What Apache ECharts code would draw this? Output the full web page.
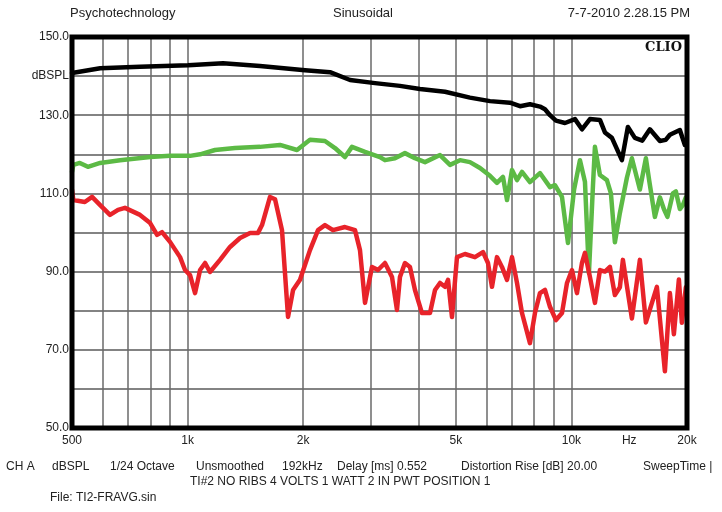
<!DOCTYPE html>
<html>
<head>
<meta charset="utf-8">
<script src="https://cdn.jsdelivr.net/npm/echarts@6/dist/echarts.min.js"></script>
<style>html,body{margin:0;padding:0;background:#fff}#c{width:722px;height:512px}</style>
</head>
<body>
<div id="c"></div>
<script>
// ---- data (frequency in Hz, level in dBSPL) ----
const blackFreq = [500,592,752,1003,1237,1544,2023,2350,2650,3078,3575,4031,4684,5440,6135,6918,7345,7797,8279,8532,8792,9114,9621,10214,10651,11173,11864,12225,12748,13535,14030,14630,15300,16009,16997,17600,18050,19163,19745];
const blackDb   = [140.8,142.0,142.4,142.8,143.3,142.6,141.5,141.0,139.0,138.2,137.5,136.7,136.0,134.5,133.6,133.2,132.3,132.8,132.2,131.5,130.0,128.6,128.0,129.0,126.4,129.0,128.8,125.6,124.2,118.5,127.0,124.2,123.5,126.4,123.4,123.7,125.0,126.2,122.4];

const greenFreq = [500,504,524,550,592,667,799,900,1015,1078,1179,1329,1544,1741,1928,2084,2280,2421,2571,2681,2899,3171,3268,3470,3684,3912,4154,4546,4827,5124,5440,5778,6135,6397,6632,6795,7001,7214,7434,7797,8279,8792,9059,9449,9795,10156,10524,10844,11106,11378,11513,11864,12371,12672,12978,13372,13946,14370,15077,15630,15959,16496,16997,17410,17787,18377,18710,19163,19510,19863];
const greenDb   = [115.5,117.3,117.8,116.8,117.8,118.5,119.3,119.6,119.6,120.0,121.1,121.6,121.9,122.4,121.1,123.7,123.4,121.6,119.3,121.9,120.6,119.3,118.5,119.0,120.3,119.0,118.0,119.8,117.3,118.5,118.0,116.5,114.5,112.7,114.2,108.3,116.0,113.4,115.5,112.9,115.2,111.6,112.1,109.1,97.3,110.9,118.5,113.0,89.6,112.0,121.9,114.7,113.4,110.0,97.5,105.0,114.0,119.0,111.0,119.0,113.0,104.0,109.0,106.0,104.0,110.0,110.5,106.0,107.0,109.0];

const redFreq = [500,504,540,564,592,628,659,687,752,799,833,858,900,956,985,1015,1046,1078,1111,1144,1215,1290,1370,1455,1526,1563,1640,1690,1762,1827,1883,1963,2084,2187,2280,2392,2571,2730,2813,2899,3023,3134,3268,3409,3512,3575,3684,3796,3912,4080,4281,4412,4546,4684,4770,4885,5033,5280,5606,5883,6062,6209,6397,6592,6795,7001,7214,7434,7797,8034,8279,8532,8792,9114,9449,9737,10032,10337,10651,10844,11173,11513,11864,12225,12596,12978,13372,13616,14370,15077,15630,16695,17517,18050,18487,19049,19394,19863];
const redDb   = [110.9,108.3,107.8,109.1,107.0,104.5,105.8,106.3,104.5,102.4,99.4,100.1,97.6,93.7,90.4,89.1,84.5,90.4,92.2,89.9,93.0,96.3,98.6,99.9,99.9,101.9,109.1,108.5,100.6,78.4,85.3,87.9,95.5,100.6,101.9,100.6,101.4,100.6,95.5,82.0,91.2,90.4,92.2,88.6,80.2,88.6,92.2,91.2,85.3,79.4,79.4,85.3,87.1,86.1,87.9,78.4,93.7,94.5,93.7,95.0,92.2,86.1,93.7,91.2,87.9,93.7,87.1,79.4,71.7,79.4,84.5,85.3,81.0,77.6,79.4,87.1,90.4,84.5,92.2,94.8,88.6,82.0,90.4,90.0,91.2,84.0,86.0,93.0,78.0,93.0,77.0,86.1,64.5,84.5,74.0,88.0,76.9,86.0];

const gridFreqs = [500,600,700,800,900,1000,2000,3000,4000,5000,6000,7000,8000,9000,10000,20000];
const xLabelFreqs = [500,1000,2000,5000,10000,14142,20000];
const xLabelText  = {500:'500',1000:'1k',2000:'2k',5000:'5k',10000:'10k',14142:'Hz',20000:'20k'};

function pairs(f, d){ return f.map((v,i)=>[v,d[i]]); }

const chart = echarts.init(document.getElementById('c'), null, {renderer:'canvas'});
const txt = '#222';
const font = 'Liberation Sans, Arial, sans-serif';
function lineSeries(name, f, d, color){
  return {name, type:'line', data:pairs(f,d), showSymbol:false, symbol:'none',
    lineStyle:{color, width:4.5, cap:'round', join:'round'}, z:3, animation:false};
}
chart.setOption({
  animation:false,
  backgroundColor:'#fff',
  grid:{left:72, right:35, top:37, bottom:84, show:true, borderColor:'#000', borderWidth:5, backgroundColor:'transparent', z:4},
  xAxis:{type:'log', logBase:10, min:500, max:20000,
    axisLine:{show:false},
    axisTick:{show:false, customValues:gridFreqs},
    splitLine:{show:true, lineStyle:{color:'#6a6a6a', width:1.5}},
    axisLabel:{customValues:xLabelFreqs, formatter:v=>xLabelText[Math.round(v)]||'', color:txt, fontSize:12, fontFamily:font, margin:7, showMinLabel:true, showMaxLabel:true}
  },
  yAxis:{type:'value', min:50, max:150, interval:10,
    axisLine:{show:false}, axisTick:{show:false},
    splitLine:{show:true, lineStyle:{color:'#5a5a5a', width:1.5}},
    axisLabel:{color:txt, fontSize:12, fontFamily:font, margin:3, showMinLabel:true, showMaxLabel:true,
      formatter:v=> v===140 ? 'dBSPL' : ((v-10)%20===0 ? v.toFixed(1) : '')}
  },
  series:[
    lineSeries('black', blackFreq, blackDb, '#000000'),
    lineSeries('green', greenFreq, greenDb, '#5cba45'),
    lineSeries('red', redFreq, redDb, '#e8232a')
  ],
  graphic:[
    {type:'text', left:70, top:7, style:{text:'Psychotechnology', fill:txt, font:'13px '+font}},
    {type:'text', left:333, top:7, style:{text:'Sinusoidal', fill:txt, font:'13px '+font}},
    {type:'text', right:32, top:7, style:{text:'7-7-2010 2.28.15 PM', fill:txt, font:'13px '+font}},
    {type:'text', right:40, top:41, z:10, style:{text:'CLIO', fill:'#111', font:'bold 13px "DejaVu Serif", serif'}},
    {type:'text', left:6, top:461, style:{text:'CH A', fill:txt, font:'12px '+font}},
    {type:'text', left:52, top:461, style:{text:'dBSPL', fill:txt, font:'12px '+font}},
    {type:'text', left:110, top:461, style:{text:'1/24 Octave', fill:txt, font:'12px '+font}},
    {type:'text', left:196, top:461, style:{text:'Unsmoothed', fill:txt, font:'12px '+font}},
    {type:'text', left:282, top:461, style:{text:'192kHz', fill:txt, font:'12px '+font}},
    {type:'text', left:337, top:461, style:{text:'Delay [ms] 0.552', fill:txt, font:'12px '+font}},
    {type:'text', left:461, top:461, style:{text:'Distortion Rise [dB] 20.00', fill:txt, font:'12px '+font}},
    {type:'text', left:643, top:461, style:{text:'SweepTime |', fill:txt, font:'12px '+font}},
    {type:'text', left:190, top:476, style:{text:'TI#2 NO RIBS 4 VOLTS 1 WATT 2 IN PWT POSITION 1', fill:txt, font:'12px '+font}},
    {type:'text', left:50, top:492, style:{text:'File: TI2-FRAVG.sin', fill:txt, font:'12px '+font}}
  ]
});
</script>
</body>
</html>
